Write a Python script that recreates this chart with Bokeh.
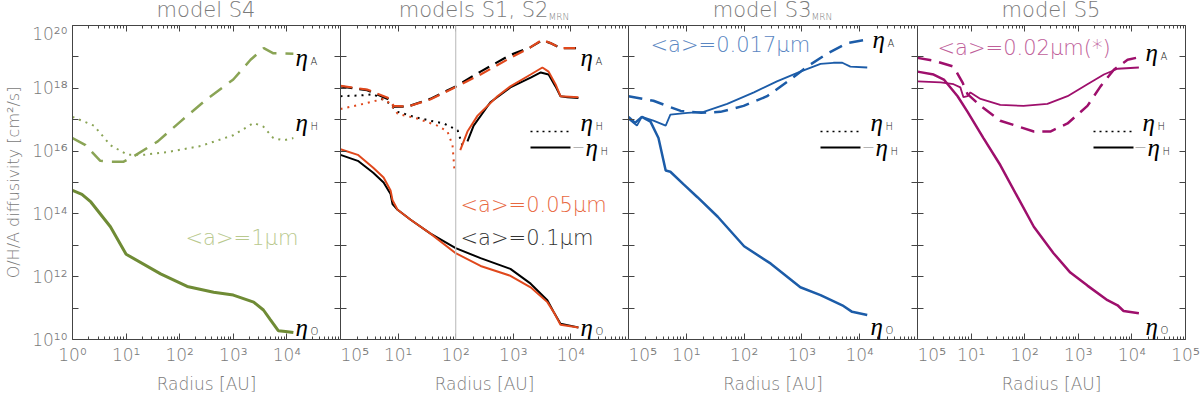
from bokeh.plotting import figure
from bokeh.layouts import row, column
from bokeh.models import FixedTicker, LogAxis, Label, Span, Arrow, Range1d, Div
from bokeh.embed import file_html
from bokeh.resources import INLINE

# ---------------- tick values / labels ----------------
x_tick_values = [1, 10, 100, 1e3, 1e4, 1e5]
x_minor_values = [m * d for d in (1, 10, 100, 1e3, 1e4) for m in range(2, 10)]
y_tick_values = [1e10, 1e11, 1e12, 1e13, 1e14, 1e15, 1e16, 1e17, 1e18, 1e19, 1e20]
x_labels_first = ["10⁰", "10¹", "10²", "10³", "10⁴", ""]
x_labels_mid = ["10⁵", "10¹", "10²", "10³", "10⁴", ""]
x_labels_last = ["10⁵", "10¹", "10²", "10³", "10⁴", "10⁵"]
y_labels = ["10¹⁰", "", "10¹²", "", "10¹⁴", "", "10¹⁶", "", "10¹⁸", "", "10²⁰"]

# ---------------- model S4 ----------------
s4_r_O = [1, 1.5, 2.2, 5.1, 10, 44, 138, 430, 1000, 2400, 3650, 4900, 6900, 9400, 13200]
s4_eta_O = [5.6e14, 4.2e14, 2.4e14, 3.9e13, 5.2e12, 1.23e12, 4.9e11, 3.2e11, 2.6e11, 1.55e11,
            8.7e10, 4.3e10, 1.9e10, 1.8e10, 1.66e10]
s4_r_A = [1, 1.75, 3.3, 5.1, 9, 14, 39, 103, 325, 1000, 2100, 3700, 5600, 8700, 13200]
s4_eta_A = [2.6e16, 1.55e16, 4.9e15, 4.6e15, 4.6e15, 6.9e15, 2.04e16, 8.7e16, 4.6e17, 1.9e18,
            8.1e18, 1.9e19, 1.3e19, 1.3e19, 1.26e19]
s4_r_H = [1, 2.5, 5.1, 10.6, 21, 59, 245, 1000, 2400, 3650, 5600, 8700, 13200]
s4_eta_H = [1.23e17, 6.5e16, 1.55e16, 7.6e15, 7.6e15, 9.3e15, 1.45e16, 3.2e16, 7.9e16, 6.0e16,
            2.6e16, 2.2e16, 2.6e16]

# ---------------- models S1 (black) and S2_MRN (red) ----------------
s12_r_A = [1, 2.9, 6.6, 8.4, 14.5, 36, 100, 270, 890, 2000, 3200, 4400, 6600, 13000]
s1_eta_A = [1.15e18, 8.7e17, 4.6e17, 2.6e17, 2.6e17, 4.6e17, 1.15e18, 3.4e18, 1.15e19, 2.04e19,
            3.4e19, 2.75e19, 1.9e19, 1.9e19]
s2_eta_A = [1.2e18, 9.1e17, 5.0e17, 2.75e17, 2.6e17, 4.4e17, 1.1e18, 2.75e18, 9.3e18, 2.04e19,
            3.55e19, 2.75e19, 1.9e19, 1.9e19]
s1_r_H = [1, 2.5, 3.7, 6.6, 9.8, 19, 36, 62, 108, 130]
s1_eta_H = [5.6e17, 6.0e17, 6.5e17, 3.6e17, 1.78e17, 1.23e17, 9.3e16, 7.6e16, 4.6e16, 1.55e16]
s1_r_mH = [160, 205, 400, 890, 2000, 3000, 4100, 5400, 6600, 8700, 13500]
s1_eta_mH = [2.04e16, 6.5e16, 3.6e17, 1.07e18, 2.2e18, 3.2e18, 2.75e18, 1.15e18, 5.6e17, 5.2e17, 4.9e17]
s2_r_H = [1, 2.5, 5.6, 7.4, 9.8, 22, 48, 72, 88, 95]
s2_eta_H = [2.2e17, 3.2e17, 4.6e17, 3.2e17, 1.55e17, 1.07e17, 6.5e16, 4.2e16, 1.55e16, 2.6e15]
s2_r_mH = [120, 160, 240, 530, 890, 2000, 3200, 4100, 5400, 6600, 13500]
s2_eta_mH = [1.07e16, 4.2e16, 1.35e17, 5.6e17, 1.15e18, 2.75e18, 4.6e18, 3.4e18, 1.35e18, 5.6e17, 5.2e17]
s12_r_O = [1, 2, 3.7, 5.6, 7.4, 8, 9.8, 16.5, 36, 100, 270, 890, 2000, 3900, 5000, 6600, 13500]
s1_eta_O = [7.6e15, 4.9e15, 2.04e15, 1.0e15, 4.3e14, 2.04e14, 1.35e14, 6.5e13, 2.4e13, 8.1e12,
            3.9e12, 1.78e12, 6.0e11, 1.78e11, 7.6e10, 3.2e10, 2.4e10]
s2_eta_O = [1.15e16, 7.6e15, 2.95e15, 1.45e15, 5.6e14, 2.75e14, 1.35e14, 6.5e13, 2.4e13, 5.6e12,
            2.2e12, 1.07e12, 4.6e11, 1.55e11, 7.6e10, 2.95e10, 2.4e10]

# ---------------- model S3_MRN ----------------
s3_r_A = [1, 2.7, 8, 18, 39, 98, 250, 630, 1230, 2800, 6100, 11700]
s3_eta_A = [5.6e17, 4.0e17, 1.9e17, 1.66e17, 1.78e17, 2.75e17, 5.6e17, 1.9e18, 4.9e18, 1.3e19,
            2.75e19, 3.4e19]
s3_r_mH = [1, 1.4, 1.7, 2.7, 4.4, 5.3, 10.5, 20, 51, 148, 370, 940, 2100, 3500, 5000, 6900, 13500]
s3_eta_mH = [1.07e17, 6.5e16, 1.23e17, 9.3e16, 6.5e16, 1.45e17, 1.66e17, 1.78e17, 3.2e17, 7.4e17,
             1.66e18, 3.4e18, 6.0e18, 6.5e18, 6.5e18, 4.9e18, 4.6e18]
s3_r_O = [1, 1.3, 1.7, 2.4, 3.3, 4.4, 5.3, 9, 15.6, 35, 100, 290, 940, 2100, 5000, 7400, 13500]
s3_eta_O = [1.23e17, 7.9e16, 1.23e17, 8.7e16, 2.6e16, 2.4e15, 2.2e15, 8.7e14, 3.4e14, 8.1e13,
            9.3e12, 2.6e12, 4.6e11, 2.6e11, 1.23e11, 7.6e10, 6.0e10]

# ---------------- model S5 ----------------
s5_r_A = [1, 2, 4.7, 6.9, 8.6, 15, 35, 148, 300, 630, 1480, 2600, 4600, 8300, 14500]
s5_eta_A = [9.3e18, 7.6e18, 4.9e18, 1.55e18, 6.5e17, 2.75e17, 9.3e16, 4.2e16, 4.2e16, 7.6e16,
            2.75e17, 1.15e18, 3.9e18, 8.1e18, 1.0e19]
s5_r_mH = [1, 2.7, 4.7, 6.3, 7.2, 8.6, 9.7, 15, 35, 95, 265, 630, 1480, 3000, 5400, 13500]
s5_eta_mH = [1.66e18, 1.55e18, 1.35e18, 1.07e18, 5.2e17, 5.6e17, 7.4e17, 4.6e17, 2.95e17, 2.75e17,
             3.2e17, 5.6e17, 1.35e18, 2.75e18, 4.2e18, 4.6e18]
s5_r_O = [1, 2, 3.1, 5.6, 8.6, 17, 35, 74, 148, 345, 710, 1480, 3500, 5400, 7000, 13500]
s5_eta_O = [3.4e18, 2.75e18, 1.9e18, 5.6e17, 1.78e17, 2.6e16, 3.6e15, 3.4e14, 3.9e13, 5.6e12,
            1.35e12, 5.2e11, 1.78e11, 1.23e11, 8.1e10, 6.9e10]

# ---------------- styling ----------------
SANS = "'DejaVu Sans Light', 'DejaVu Sans', sans-serif"
SERIF = "Liberation Serif"
GRAY = "#7a7a7a"
AXC = "#444444"
GREEN, GREEN_D, GREEN_L = "#6f8b35", "#8aa455", "#b9c98e"
RED, RED_L = "#e0481c", "#e8683f"
BLUE, BLUE_L = "#1c5ca8", "#5a86c2"
MAG, MAG_L = "#9e0f6c", "#c0609a"

TITLE_H = 23
TOPB, BOTB = 2, 51
H = TOPB + 320 + BOTB


def style_axis(ax, labels=None):
    ax.axis_line_color = AXC
    ax.major_tick_line_color = AXC
    ax.minor_tick_line_color = AXC
    ax.major_tick_in = 6
    ax.major_tick_out = 0
    ax.minor_tick_in = 3
    ax.minor_tick_out = 0
    if labels is None:
        ax.major_label_overrides = {t: " " for t in ax.ticker.ticks}
        ax.major_label_text_font_size = "1px"
        ax.major_label_text_alpha = 0
        ax.major_label_standoff = 0
    else:
        ax.major_label_overrides = dict(zip(ax.ticker.ticks, labels))
        ax.major_label_text_font = SANS
        ax.major_label_text_font_size = "17px"
        ax.major_label_text_color = GRAY
        ax.major_label_standoff = 5


def panel(width, left, right, xlabels, ylabels=None):
    p = figure(width=width, height=H, x_axis_type="log", y_axis_type="log",
               x_range=Range1d(1, 1e5), y_range=Range1d(1e10, 1e20),
               output_backend="svg", toolbar_location=None,
               min_border_left=left, min_border_right=right,
               min_border_top=TOPB, min_border_bottom=BOTB)
    p.grid.visible = False
    p.outline_line_color = None
    p.background_fill_color = "white"
    p.border_fill_color = "white"
    xt = FixedTicker(ticks=x_tick_values, minor_ticks=x_minor_values)
    yt = FixedTicker(ticks=y_tick_values, minor_ticks=[])
    xa, ya = p.xaxis[0], p.yaxis[0]
    xa.ticker = xt
    ya.ticker = yt
    style_axis(xa, xlabels)
    style_axis(ya, ylabels)
    xa.axis_label = "Radius [AU]"
    xa.axis_label_text_font = SANS
    xa.axis_label_text_font_style = "normal"
    xa.axis_label_text_font_size = "17px"
    xa.axis_label_text_color = GRAY
    xa.axis_label_standoff = 6
    top = LogAxis(ticker=xt)
    style_axis(top)
    p.add_layout(top, "above")
    rgt = LogAxis(ticker=yt)
    style_axis(rgt)
    p.add_layout(rgt, "right")
    return p


def title_div(width, pad_left, frame_w, html):
    style = ("width:%dpx;margin-left:%dpx;text-align:center;white-space:nowrap;"
             "font-family:'DejaVu Sans Light','DejaVu Sans',sans-serif;font-size:21px;"
             "line-height:22px;color:%s;margin-top:-1px") % (frame_w, pad_left, GRAY)
    return Div(text='<div style="%s">%s</div>' % (style, html), width=width, height=TITLE_H, margin=0)


SUB = '<span style="font-size:9px;position:relative;top:3px">MRN</span>'


def lab(p, x, y, text, size="17px", color=GRAY, font=SANS, style="normal", align="left"):
    p.add_layout(Label(x=x, y=y, x_units="screen", y_units="screen", text=text,
                       text_font=font, text_font_size=size, text_color=color,
                       text_font_style=style, text_align=align, text_baseline="middle"))


def eta(p, x, y, sub, minus=False):
    if minus:
        lab(p, x - 9, y + 1, "−", size="16px", color=GRAY)
        x += 5
    lab(p, x, y, "η", size="25px", color="black", font=SERIF, style="italic")
    lab(p, x + 15, y - 4, sub, size="10px", color="#222222")


def legend_keys(p, x):
    p.add_layout(Arrow(end=None, x_start=x, y_start=208, x_end=x + 40, y_end=208,
                       start_units="screen", end_units="screen",
                       line_color="black", line_width=1.5, line_dash="2 4"))
    p.add_layout(Arrow(end=None, x_start=x, y_start=192, x_end=x + 40, y_end=192,
                       start_units="screen", end_units="screen",
                       line_color="black", line_width=1.8))


# ---------------- panel 1: model S4 ----------------
p1 = panel(340, 72, 0, x_labels_first, y_labels)
p1.yaxis[0].axis_label = "O/H/A diffusivity [cm²/s]"
p1.yaxis[0].axis_label_text_font = SANS
p1.yaxis[0].axis_label_text_font_style = "normal"
p1.yaxis[0].axis_label_text_font_size = "16px"
p1.yaxis[0].axis_label_text_color = GRAY
p1.yaxis[0].axis_label_standoff = 6
p1.line(s4_r_H, s4_eta_H, line_color=GREEN_D, line_width=2, line_dash="2 5")
p1.line(s4_r_A, s4_eta_A, line_color=GREEN_D, line_width=2.5, line_dash="15 9")
p1.line(s4_r_O, s4_eta_O, line_color=GREEN, line_width=3)
lab(p1, 113, 102, "<a>=1μm", size="21px", color=GREEN_L)
eta(p1, 223, 282, "A")
eta(p1, 223, 217, "H")
eta(p1, 223, 12, "O")

# ---------------- panel 2: models S1, S2_MRN ----------------
p2 = panel(288, 0, 0, x_labels_mid)
p2.add_layout(Span(location=100, dimension="height", line_color="#c4c4c4", line_width=1.2))
p2.line(s12_r_A, s1_eta_A, line_color="black", line_width=2.2, line_dash="12 7")
p2.line(s12_r_A, s2_eta_A, line_color=RED, line_width=2.2, line_dash="12 7")
p2.line(s1_r_H, s1_eta_H, line_color="black", line_width=2, line_dash="2 5")
p2.line(s2_r_H, s2_eta_H, line_color=RED, line_width=2, line_dash="2 5")
p2.line(s1_r_mH, s1_eta_mH, line_color="black", line_width=2)
p2.line(s2_r_mH, s2_eta_mH, line_color=RED, line_width=2)
p2.line(s12_r_O, s1_eta_O, line_color="black", line_width=2)
p2.line(s12_r_O, s2_eta_O, line_color=RED, line_width=2)
lab(p2, 120, 135, "<a>=0.05μm", size="21px", color=RED_L)
lab(p2, 120, 102, "<a>=0.1μm", size="21px", color="#333333")
legend_keys(p2, 190)
eta(p2, 240, 282, "A")
eta(p2, 240, 217, "H")
eta(p2, 240, 192, "H", minus=True)
eta(p2, 240, 12, "O")

# ---------------- panel 3: model S3_MRN ----------------
p3 = panel(289, 0, 0, x_labels_mid)
p3.line(s3_r_A, s3_eta_A, line_color=BLUE, line_width=2.5, line_dash="14 8")
p3.line(s3_r_mH, s3_eta_mH, line_color=BLUE, line_width=1.8)
p3.line(s3_r_O, s3_eta_O, line_color=BLUE, line_width=2.5)
lab(p3, 22, 295, "<a>=0.017μm", size="21px", color=BLUE_L)
legend_keys(p3, 192)
eta(p3, 244, 300, "A")
eta(p3, 242, 217, "H")
eta(p3, 242, 192, "H", minus=True)
eta(p3, 242, 13, "O")

# ---------------- panel 4: model S5 ----------------
p4 = panel(283, 0, 15, x_labels_last)
p4.line(s5_r_A, s5_eta_A, line_color=MAG, line_width=2.5, line_dash="14 8")
p4.line(s5_r_mH, s5_eta_mH, line_color=MAG, line_width=1.8)
p4.line(s5_r_O, s5_eta_O, line_color=MAG, line_width=2.5)
lab(p4, 20, 292, "<a>=0.02μm(*)", size="21px", color=MAG_L)
legend_keys(p4, 176)
eta(p4, 228, 287, "A")
eta(p4, 225, 217, "H")
eta(p4, 225, 192, "H", minus=True)
eta(p4, 228, 13, "O")

titles = row(
    title_div(340, 72, 268, "model S4"),
    title_div(288, 0, 288, "models S1, S2" + SUB),
    title_div(289, 0, 289, "model S3" + SUB),
    title_div(283, 0, 268, "model S5"),
)
layout = column(titles, row(p1, p2, p3, p4))
open("out.html", "w").write(file_html(layout, INLINE))
